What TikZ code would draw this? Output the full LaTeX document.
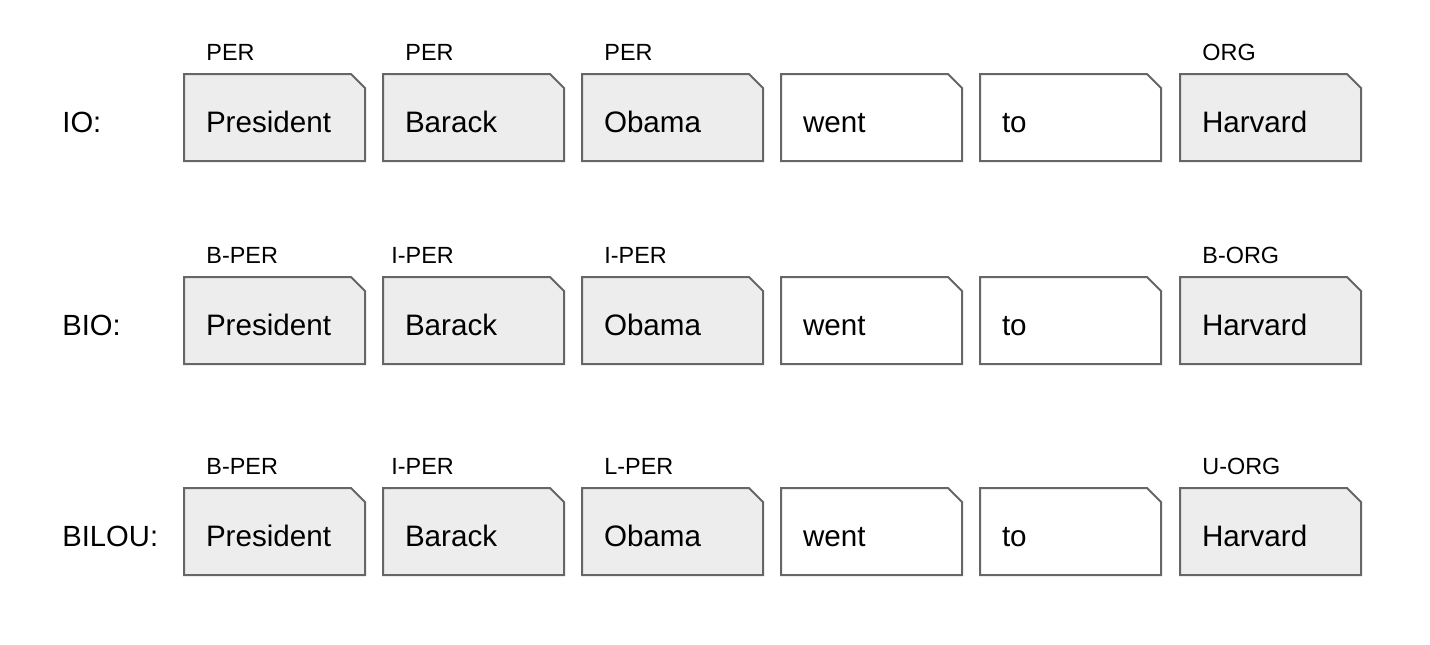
\documentclass[tikz,border=0pt]{standalone}
\usepackage{fontspec}
\setmainfont{Liberation Sans}
\usetikzlibrary{shapes.misc}

\tikzset{
	tok/.style = {chamfered rectangle, chamfered rectangle corners=north east,
		chamfered rectangle xsep=3.5pt, chamfered rectangle ysep=3.5pt,
		draw=black!60, line width=1pt, fill=white,
		minimum width=90.5pt, minimum height=43.5pt, inner xsep=7.5pt,
		text width=68.5pt, align=left, text height=14.5pt, text depth=0pt,
		font=\fontsize{14.8pt}{16pt}\selectfont},
	ent/.style = {tok, fill=black!7},
	tag/.style = {anchor=base west, inner sep=0pt, font=\fontsize{11.7pt}{13pt}\selectfont},
	scheme/.style = {anchor=base west, inner sep=0pt, font=\fontsize{14.6pt}{16pt}\selectfont}
}

\begin{document}
\begin{tikzpicture}[x=0.5pt, y=-0.5pt]
	\useasboundingbox (0,0) rectangle (1430,644);
	% IO
	\node[scheme] (io) at (62,132) {IO:};
	\node[ent] (ioA) at (274.5,117.5) {President};
	\node[ent] (ioB) at (473.5,117.5) {Barack};
	\node[ent] (ioC) at (672.5,117.5) {Obama};
	\node[tok] (ioD) at (871.5,117.5) {went};
	\node[tok] (ioE) at (1070.5,117.5) {to};
	\node[ent] (ioF) at (1270.5,117.5) {Harvard};
	\node[tag] at ([shift={(23,-13)}]ioA.north west) {PER};
	\node[tag] at ([shift={(23,-13)}]ioB.north west) {PER};
	\node[tag] at ([shift={(23,-13)}]ioC.north west) {PER};
	\node[tag] at ([shift={(23,-13)}]ioF.north west) {ORG};
	% BIO
	\node[scheme] (bio) at (62,335) {BIO:};
	\node[ent] (bioA) at (274.5,320.5) {President};
	\node[ent] (bioB) at (473.5,320.5) {Barack};
	\node[ent] (bioC) at (672.5,320.5) {Obama};
	\node[tok] (bioD) at (871.5,320.5) {went};
	\node[tok] (bioE) at (1070.5,320.5) {to};
	\node[ent] (bioF) at (1270.5,320.5) {Harvard};
	\node[tag] at ([shift={(23,-13)}]bioA.north west) {B-PER};
	\node[tag] at ([shift={(9,-13)}]bioB.north west) {I-PER};
	\node[tag] at ([shift={(23,-13)}]bioC.north west) {I-PER};
	\node[tag] at ([shift={(23,-13)}]bioF.north west) {B-ORG};
	% BILOU
	\node[scheme] (bilou) at (62,546) {BILOU:};
	\node[ent] (bilouA) at (274.5,531.5) {President};
	\node[ent] (bilouB) at (473.5,531.5) {Barack};
	\node[ent] (bilouC) at (672.5,531.5) {Obama};
	\node[tok] (bilouD) at (871.5,531.5) {went};
	\node[tok] (bilouE) at (1070.5,531.5) {to};
	\node[ent] (bilouF) at (1270.5,531.5) {Harvard};
	\node[tag] at ([shift={(23,-13)}]bilouA.north west) {B-PER};
	\node[tag] at ([shift={(9,-13)}]bilouB.north west) {I-PER};
	\node[tag] at ([shift={(23,-13)}]bilouC.north west) {L-PER};
	\node[tag] at ([shift={(23,-13)}]bilouF.north west) {U-ORG};
\end{tikzpicture}
\end{document}
